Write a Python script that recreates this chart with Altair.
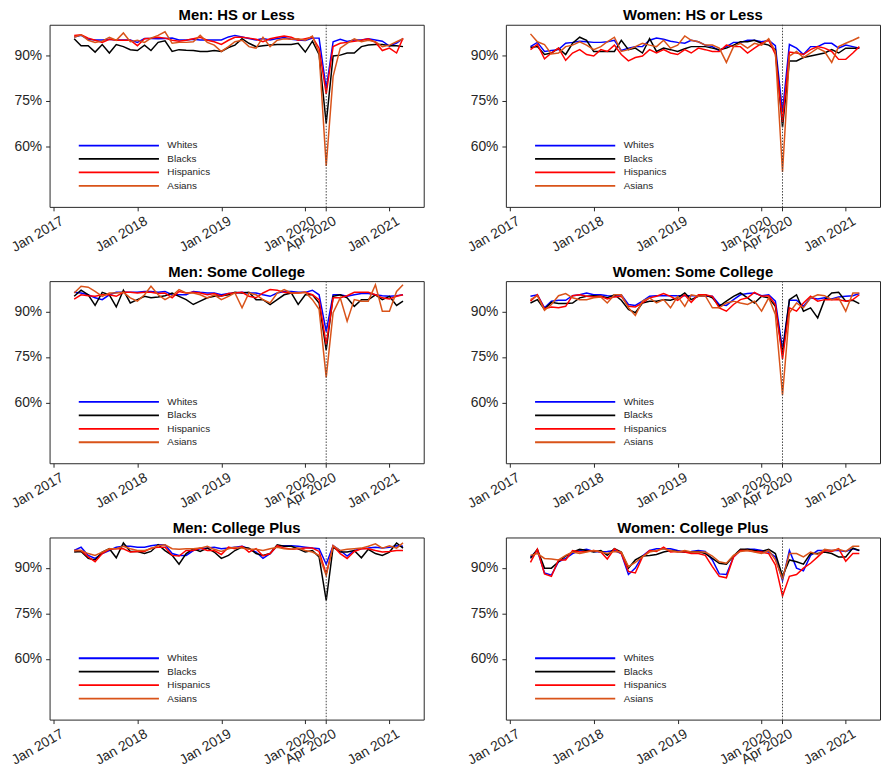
import altair as alt
import pandas as pd

groups = ["Whites", "Blacks", "Hispanics", "Asians"]
colors = ["#0000FF", "#000000", "#FF0000", "#D95319"]
months = pd.date_range("2017-04-01", "2021-03-01", freq="MS")
titles = ["Men: HS or Less", "Women: HS or Less", "Men: Some College",
          "Women: Some College", "Men: College Plus", "Women: College Plus"]
tick_dates = ["2017-01-01", "2018-01-01", "2019-01-01", "2020-01-01", "2020-04-01", "2021-01-01"]
y_ticks = [60, 75, 90]
marker_date = ["2020-04-01"]

# Men: HS or Less
mhs_w = [96.0, 96.5, 95.2, 95.0, 95.0, 95.2, 95.0, 95.0, 95.0, 94.2, 95.5, 95.5, 95.4, 95.5, 95.6, 95.0, 95.0, 95.2, 95.0, 95.0, 95.0, 95.0, 96.0, 96.5, 96.0, 95.5, 95.0, 95.5, 95.0, 95.5, 95.8, 95.2, 95.0, 94.8, 95.6, 95.6, 79.0, 94.4, 95.2, 94.5, 95.0, 95.0, 95.4, 95.0, 94.6, 93.0, 94.0, 95.4]
mhs_b = [95.4, 93.1, 93.1, 91.0, 93.5, 90.7, 93.5, 92.8, 91.8, 91.5, 93.3, 91.5, 94.2, 94.7, 91.2, 91.8, 91.6, 91.5, 91.2, 91.2, 91.5, 91.2, 92.5, 93.3, 95.4, 93.9, 92.8, 93.1, 93.3, 93.5, 93.5, 93.5, 93.9, 91.0, 94.6, 90.2, 67.5, 89.7, 90.0, 90.7, 90.7, 92.8, 93.3, 93.5, 93.5, 93.1, 93.1, 92.8]
mhs_h = [96.5, 96.7, 95.6, 94.9, 94.2, 95.2, 94.9, 94.9, 94.9, 93.1, 95.4, 95.6, 95.9, 95.6, 94.9, 94.6, 94.9, 95.4, 95.9, 94.9, 94.4, 93.5, 94.9, 95.9, 95.9, 95.6, 95.2, 94.4, 95.4, 95.9, 96.3, 95.9, 94.9, 95.4, 95.9, 92.3, 77.2, 92.8, 93.9, 94.2, 94.6, 94.9, 95.4, 94.2, 91.5, 92.3, 90.7, 95.6]
mhs_a = [95.9, 96.7, 94.9, 94.2, 94.6, 95.9, 94.9, 97.3, 94.4, 94.9, 94.2, 95.6, 96.5, 97.7, 93.9, 94.2, 94.2, 94.4, 96.5, 94.2, 93.3, 91.2, 92.8, 94.4, 94.9, 92.8, 92.3, 95.9, 92.8, 94.9, 95.4, 95.2, 95.4, 94.9, 96.3, 90.7, 53.5, 83.0, 92.3, 93.9, 95.4, 94.4, 94.9, 94.4, 92.8, 93.3, 94.4, 95.4]

# Women: HS or Less
whs_w = [92.8, 94.2, 91.2, 91.5, 91.8, 93.9, 94.2, 94.6, 94.4, 94.2, 94.2, 94.4, 94.9, 91.5, 92.3, 92.8, 92.8, 94.9, 95.6, 95.2, 94.6, 94.2, 93.9, 94.9, 94.4, 93.3, 92.8, 91.5, 92.8, 94.2, 94.2, 94.9, 94.9, 94.4, 94.9, 93.1, 71.2, 93.5, 92.3, 90.2, 92.8, 92.8, 93.9, 93.9, 92.3, 93.3, 92.8, 92.3]
whs_b = [92.5, 92.8, 90.2, 90.7, 92.3, 90.2, 93.9, 95.9, 94.9, 91.2, 91.2, 91.2, 91.2, 94.9, 91.8, 92.3, 90.7, 95.4, 91.2, 92.3, 91.8, 91.2, 92.1, 92.8, 92.8, 92.8, 92.3, 91.8, 92.3, 93.3, 94.4, 94.4, 94.9, 93.9, 93.3, 91.8, 66.3, 88.1, 88.1, 89.2, 89.7, 90.2, 90.7, 91.8, 90.7, 92.3, 92.3, 92.3]
whs_h = [91.8, 93.5, 88.8, 90.7, 92.3, 88.3, 90.7, 91.8, 90.2, 89.7, 91.8, 91.2, 93.3, 90.2, 88.1, 89.2, 89.7, 91.8, 90.7, 91.8, 90.7, 90.2, 91.8, 90.7, 92.3, 91.8, 91.2, 91.2, 93.3, 92.8, 92.8, 90.7, 92.3, 93.9, 94.9, 90.2, 68.0, 91.0, 90.7, 90.2, 91.8, 92.8, 92.3, 91.2, 88.6, 88.6, 90.7, 92.8]
whs_a = [97.0, 94.4, 93.5, 90.4, 90.7, 92.8, 93.3, 94.4, 93.3, 91.8, 92.8, 94.4, 95.9, 91.2, 91.8, 92.8, 93.9, 93.3, 92.8, 94.9, 92.3, 93.3, 96.3, 94.9, 94.4, 93.3, 93.3, 92.3, 87.6, 92.8, 93.9, 92.3, 93.9, 93.3, 95.4, 91.2, 51.5, 89.7, 91.2, 89.2, 90.7, 92.3, 91.2, 87.6, 92.8, 93.9, 94.9, 95.9]

# Men: Some College
msc_w = [96.3, 96.1, 95.5, 94.5, 93.9, 95.5, 96.3, 96.3, 96.3, 96.3, 96.6, 96.6, 96.3, 96.6, 95.5, 95.5, 95.5, 96.6, 96.3, 96.1, 96.1, 95.5, 95.9, 96.1, 96.3, 96.1, 96.1, 95.5, 95.0, 96.1, 96.6, 96.6, 96.3, 96.3, 97.0, 95.5, 83.4, 95.5, 95.5, 95.0, 95.5, 95.9, 95.9, 95.5, 95.2, 95.0, 95.2, 95.5]
msc_b = [95.0, 97.0, 95.5, 92.0, 96.3, 95.5, 91.5, 97.0, 92.8, 93.9, 95.0, 94.5, 94.8, 95.2, 96.1, 95.0, 93.9, 92.3, 93.4, 94.5, 95.0, 95.2, 95.5, 96.3, 96.1, 96.3, 93.9, 93.9, 92.3, 93.9, 95.5, 96.1, 92.3, 95.5, 95.5, 92.8, 77.3, 95.0, 95.5, 94.5, 91.7, 93.9, 93.9, 95.5, 93.9, 95.0, 92.0, 93.4]
msc_h = [94.1, 95.5, 95.2, 95.0, 95.5, 95.5, 95.0, 96.3, 96.3, 96.1, 96.3, 96.3, 95.9, 96.1, 94.5, 96.6, 96.1, 96.3, 96.1, 95.5, 95.9, 95.0, 95.9, 96.1, 96.3, 95.0, 94.5, 96.1, 97.2, 97.0, 96.3, 96.1, 96.1, 96.3, 95.5, 93.9, 79.1, 94.5, 94.5, 95.2, 96.3, 96.3, 96.3, 95.5, 94.5, 94.1, 95.0, 95.5]
msc_a = [96.1, 98.3, 98.0, 96.6, 95.0, 96.1, 96.1, 96.3, 94.5, 93.4, 95.5, 98.3, 95.5, 93.9, 95.2, 97.2, 96.1, 96.1, 95.5, 94.5, 95.5, 93.9, 95.0, 96.1, 91.2, 96.1, 95.5, 93.9, 92.8, 96.1, 97.2, 96.1, 96.1, 96.3, 93.9, 90.7, 68.3, 89.6, 94.5, 86.8, 93.9, 93.4, 93.4, 98.8, 90.1, 90.1, 96.6, 98.8]

# Women: Some College
wsc_w = [95.0, 95.5, 91.2, 93.4, 93.7, 93.7, 95.2, 95.5, 96.1, 95.5, 95.5, 95.2, 95.0, 95.5, 92.3, 92.0, 93.4, 95.0, 95.2, 95.2, 95.2, 95.2, 95.2, 95.2, 95.2, 95.0, 95.0, 92.3, 92.0, 93.9, 95.5, 95.9, 96.1, 95.2, 95.5, 93.4, 77.5, 93.7, 93.7, 91.7, 94.5, 94.1, 94.5, 94.1, 94.8, 95.0, 95.2, 95.9]
wsc_b = [92.8, 93.9, 90.7, 93.0, 92.6, 92.6, 92.8, 94.5, 95.0, 95.2, 95.0, 94.5, 95.5, 93.7, 90.7, 89.6, 92.8, 93.4, 93.4, 93.9, 93.7, 94.5, 96.1, 93.9, 95.0, 95.5, 94.5, 91.7, 93.4, 95.0, 96.1, 94.5, 92.8, 95.0, 94.5, 91.7, 76.0, 93.9, 95.5, 90.1, 91.2, 87.9, 93.9, 96.1, 96.3, 93.4, 93.7, 92.6]
wsc_h = [93.4, 95.5, 90.9, 91.5, 91.2, 91.7, 95.2, 95.5, 95.0, 94.8, 95.0, 94.1, 94.8, 95.0, 91.7, 91.5, 92.8, 94.5, 95.0, 95.9, 95.0, 93.7, 95.5, 93.0, 95.5, 95.5, 95.0, 91.2, 90.1, 92.3, 93.9, 94.5, 96.3, 95.0, 95.2, 92.3, 74.3, 91.2, 90.1, 92.8, 95.0, 93.4, 93.9, 93.9, 93.9, 93.4, 93.9, 95.5]
wsc_a = [93.9, 95.2, 90.4, 92.3, 95.2, 95.9, 94.5, 93.9, 93.9, 94.5, 94.8, 92.8, 95.5, 95.5, 91.2, 88.7, 93.4, 94.5, 92.8, 93.9, 91.2, 95.0, 91.7, 95.5, 95.0, 95.2, 91.2, 91.2, 92.8, 93.4, 92.8, 92.3, 93.4, 90.1, 94.5, 89.0, 62.4, 89.6, 92.8, 91.2, 94.5, 95.5, 95.2, 93.9, 94.5, 90.1, 96.1, 96.1]

# Men: College Plus
mcp_w = [95.7, 96.8, 94.1, 93.1, 94.7, 95.7, 96.8, 97.1, 97.1, 96.8, 96.8, 97.3, 97.6, 97.6, 94.7, 94.1, 94.1, 95.7, 96.3, 96.5, 96.8, 96.3, 96.5, 96.8, 97.1, 96.3, 95.2, 93.1, 94.7, 97.3, 97.3, 97.3, 97.1, 96.8, 96.5, 96.3, 91.2, 97.3, 95.7, 93.9, 95.7, 96.3, 96.5, 96.8, 96.5, 96.8, 97.3, 97.1]
mcp_b = [95.2, 95.4, 93.1, 92.6, 95.2, 96.3, 93.3, 98.2, 95.4, 95.4, 94.7, 95.4, 97.6, 95.7, 94.1, 91.2, 94.7, 96.3, 95.4, 96.5, 95.2, 93.1, 94.1, 95.7, 96.8, 96.5, 94.7, 94.1, 94.7, 97.6, 97.1, 97.1, 96.3, 95.2, 95.7, 93.6, 79.3, 96.8, 95.2, 95.2, 95.7, 93.3, 96.1, 94.7, 94.1, 95.2, 98.2, 96.5]
mcp_h = [95.7, 95.7, 93.6, 92.0, 94.7, 96.1, 96.3, 96.3, 95.2, 95.4, 95.4, 96.5, 96.8, 96.8, 94.1, 93.9, 95.7, 95.7, 96.5, 95.7, 95.7, 94.4, 96.8, 96.3, 97.1, 95.2, 96.3, 93.9, 94.7, 97.3, 96.5, 96.1, 96.3, 96.5, 96.5, 95.4, 88.0, 97.3, 94.7, 93.1, 95.4, 96.3, 96.3, 95.7, 95.2, 95.4, 95.7, 95.7]
mcp_a = [95.7, 95.7, 94.7, 94.1, 95.2, 96.3, 96.3, 97.1, 96.3, 95.7, 95.7, 96.3, 97.3, 97.6, 96.3, 96.1, 96.3, 96.3, 96.5, 97.1, 96.1, 95.4, 96.3, 96.8, 96.5, 96.1, 96.1, 95.7, 96.3, 96.8, 96.3, 96.1, 96.5, 95.7, 95.2, 94.1, 87.5, 97.3, 95.7, 96.1, 96.3, 96.5, 97.1, 97.9, 96.5, 97.3, 96.5, 98.2]

# Women: College Plus
wcp_w = [93.6, 95.7, 88.3, 87.6, 92.0, 93.1, 94.7, 95.7, 96.1, 95.4, 95.2, 95.4, 95.7, 94.7, 87.8, 89.9, 93.9, 95.7, 96.3, 96.3, 96.3, 95.7, 95.2, 95.4, 95.7, 95.4, 92.6, 88.0, 87.8, 93.6, 95.7, 96.1, 96.1, 95.7, 95.2, 93.6, 85.8, 95.7, 89.9, 89.0, 94.1, 95.7, 95.7, 95.7, 95.7, 95.4, 96.3, 95.7]
wcp_b = [93.1, 96.1, 89.9, 89.9, 92.0, 93.9, 95.2, 96.1, 95.7, 95.2, 95.7, 94.1, 96.3, 95.2, 89.9, 92.6, 93.9, 94.1, 94.4, 95.2, 95.7, 95.4, 95.2, 95.2, 95.4, 94.7, 93.1, 91.5, 91.2, 93.9, 96.1, 96.1, 95.7, 95.4, 96.1, 94.7, 87.2, 92.6, 92.0, 91.2, 94.7, 94.7, 95.2, 94.7, 93.6, 93.6, 96.5, 95.7]
wcp_h = [91.8, 96.1, 88.0, 87.2, 92.6, 92.6, 95.7, 95.2, 95.4, 95.7, 95.2, 92.9, 96.3, 94.7, 88.8, 88.3, 93.6, 95.7, 95.4, 96.8, 95.2, 95.4, 95.2, 94.7, 94.7, 94.1, 90.4, 87.2, 86.7, 93.6, 95.7, 95.7, 95.4, 95.2, 94.7, 91.0, 80.7, 87.2, 87.8, 89.9, 91.5, 93.6, 95.7, 95.4, 96.3, 92.2, 94.7, 94.7]
wcp_a = [94.1, 94.7, 93.1, 92.9, 92.6, 94.1, 95.2, 94.7, 95.2, 95.7, 95.2, 94.7, 95.4, 95.2, 90.4, 91.8, 93.6, 95.2, 95.7, 96.3, 95.7, 95.2, 95.7, 95.2, 95.2, 95.2, 93.9, 92.0, 91.5, 94.1, 95.4, 95.7, 95.2, 94.7, 95.7, 92.6, 86.3, 94.7, 94.7, 93.6, 95.2, 94.4, 96.1, 95.7, 96.1, 95.4, 97.1, 97.1]

panels = [
    (titles[0], [mhs_w, mhs_b, mhs_h, mhs_a]),
    (titles[1], [whs_w, whs_b, whs_h, whs_a]),
    (titles[2], [msc_w, msc_b, msc_h, msc_a]),
    (titles[3], [wsc_w, wsc_b, wsc_h, wsc_a]),
    (titles[4], [mcp_w, mcp_b, mcp_h, mcp_a]),
    (titles[5], [wcp_w, wcp_b, wcp_h, wcp_a]),
]

FONT = "Liberation Sans"
AX = "#262626"
x_domain = [alt.DateTime(year=2016, month=12, date=15), alt.DateTime(year=2021, month=5, date=30)]
x_values = [alt.DateTime(year=int(d[:4]), month=int(d[5:7]), date=1) for d in tick_dates]


def make_panel(title, series):
    rows = []
    for g, vals in zip(groups, series):
        for d, v in zip(months, vals):
            rows.append({"date": d, "value": v, "group": g})
    df = pd.DataFrame(rows)
    lines = alt.Chart(df).mark_line(strokeWidth=1.5).encode(
        x=alt.X("date:T", title=None,
                scale=alt.Scale(domain=x_domain),
                axis=alt.Axis(values=x_values, labelExpr="timeFormat(datum.value, '%b %Y')",
                              labelAngle=330, labelOverlap=False, labelFontSize=14,
                              labelOffset=5, labelPadding=3, grid=False, domain=False,
                              tickColor=AX, tickSize=4, labelColor=AX, labelFont=FONT)),
        y=alt.Y("value:Q", title=None,
                scale=alt.Scale(domain=[40, 100], nice=False, zero=False),
                axis=alt.Axis(values=y_ticks, labelExpr="datum.value + '%'",
                              labelFontSize=14, labelPadding=4, grid=False, domain=False,
                              tickColor=AX, tickSize=4, labelColor=AX, labelFont=FONT)),
        color=alt.Color("group:N", sort=groups,
                        scale=alt.Scale(domain=groups, range=colors),
                        legend=alt.Legend(title=None, orient="none", legendX=64, legendY=116,
                                          symbolType="M-8.1,0H8.1", symbolSize=100,
                                          symbolStrokeWidth=1.8, labelFontSize=10,
                                          labelFont=FONT, labelColor=AX, labelOffset=43,
                                          rowPadding=2.6, padding=0)),
        detail="group:N",
    )
    rule = alt.Chart(pd.DataFrame({"date": pd.to_datetime(marker_date)})).mark_rule(
        color="#444444", strokeDash=[1.5, 1.5], strokeWidth=1
    ).encode(x="date:T")
    return alt.layer(lines, rule).properties(
        width=378, height=184,
        title=alt.TitleParams(title, fontSize=15, font=FONT, fontWeight="bold",
                              color="black", offset=1),
    )


charts = [make_panel(t, s) for t, s in panels]
rows_ = []
for r in range(3):
    rows_.append(alt.hconcat(charts[2 * r], charts[2 * r + 1], spacing=40)
                 .resolve_scale(color="independent").resolve_legend(color="independent"))

chart = alt.vconcat(*rows_, spacing=9).resolve_scale(color="independent").resolve_legend(
    color="independent"
).properties(
    padding={"left": 0, "top": -4, "right": 0, "bottom": 0}, background="white"
).configure_view(
    stroke=AX, strokeWidth=1
).configure_axis(
    grid=False, domain=False, tickColor=AX, tickSize=4, labelColor=AX, labelFont=FONT
)

chart.save("out.html", embed_options={"renderer": "svg", "actions": False})
